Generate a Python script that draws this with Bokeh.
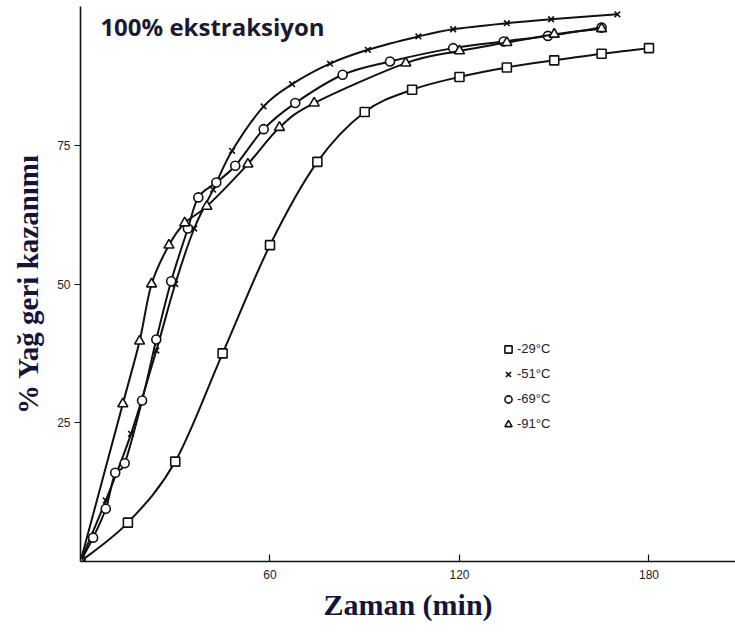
from bokeh.plotting import figure
from bokeh.models import Range1d, FixedTicker, Label, Legend, LegendItem
from bokeh.embed import file_html
from bokeh.resources import INLINE

# ---- data ----
t29 = [0, 15, 30, 45, 60, 75, 90, 105, 120, 135, 150, 165, 180]
y29 = [0, 7, 18, 37.5, 57, 72, 81, 85, 87.3, 89, 90.3, 91.5, 92.5]

t51 = [0, 8, 16, 24, 30, 36, 42, 48, 58, 67, 79, 91, 107, 118, 135, 149, 170]
y51 = [0, 11, 23, 38, 50, 60, 67, 74, 82, 86, 89.7, 92.2, 94.6, 95.9, 97.0, 97.7, 98.6]

t69 = [0, 4, 8, 11, 14, 19.5, 24, 28.7, 34, 37.3, 43, 49, 58, 68, 83, 98, 118, 134, 148, 165]
y69 = [0, 4.3, 9.5, 16, 17.7, 29, 40, 50.5, 60, 65.6, 68.3, 71.3, 77.9, 82.6, 87.7, 90.1, 92.5, 93.7, 94.7, 96.2]

t91 = [0, 13.4, 18.7, 22.5, 28, 33, 40, 53, 63, 74, 103, 120, 135, 150, 165]
y91 = [0, 28.4, 39.7, 50, 57, 61, 64, 71.6, 78.2, 82.6, 89.8, 92, 93.5, 95, 96]

series_labels = ["-29\u00b0C", "-51\u00b0C", "-69\u00b0C", "-91\u00b0C"]
x_ticks = [60, 120, 180]
y_ticks = [25, 50, 75]
title_text = "100% ekstraksiyon"
x_title = "Zaman (min)"
y_title = "% Ya\u011f geri kazan\u0131m\u0131"


def smooth_segments(xs, ys):
    """Catmull-Rom curve through the points, as cubic Bezier segments."""
    n = len(xs)
    out = {k: [] for k in ("x0", "y0", "x1", "y1", "cx0", "cy0", "cx1", "cy1")}
    for i in range(n - 1):
        xa, ya = xs[max(i - 1, 0)], ys[max(i - 1, 0)]
        xb, yb = xs[i], ys[i]
        xc, yc = xs[i + 1], ys[i + 1]
        xd, yd = xs[min(i + 2, n - 1)], ys[min(i + 2, n - 1)]
        out["x0"].append(xb); out["y0"].append(yb)
        out["x1"].append(xc); out["y1"].append(yc)
        out["cx0"].append(xb + (xc - xa) / 6.0); out["cy0"].append(yb + (yc - ya) / 6.0)
        out["cx1"].append(xc - (xd - xb) / 6.0); out["cy1"].append(yc - (yd - yb) / 6.0)
    return out


p = figure(width=735, height=637, output_backend="svg", toolbar_location=None,
           x_range=Range1d(0, 207.4), y_range=Range1d(0, 100),
           min_border_left=80, min_border_right=0, min_border_top=6, min_border_bottom=76)
p.xgrid.visible = False
p.ygrid.visible = False
p.outline_line_color = None
p.background_fill_color = "white"

ink = "#111111"
series = [
    (t29, y29, "square", 9),
    (t51, y51, "x", 8),
    (t69, y69, "circle", 9),
    (t91, y91, "triangle", 10),
]
items = []
for (tx, ty, mk, sz), lab in zip(series, series_labels):
    seg = smooth_segments(tx, ty)
    p.bezier(x0=seg["x0"], y0=seg["y0"], x1=seg["x1"], y1=seg["y1"],
             cx0=seg["cx0"], cy0=seg["cy0"], cx1=seg["cx1"], cy1=seg["cy1"],
             line_color=ink, line_width=2)
    r = p.scatter(tx, ty, marker=mk, size=sz, fill_color="white", line_color=ink, line_width=1.6)
    items.append(LegendItem(label=lab, renderers=[r]))

leg = Legend(items=items, location=(419, 128), border_line_color=None,
             background_fill_alpha=0, label_text_font="Liberation Sans",
             label_text_font_size="13px", label_text_color="#222222",
             glyph_width=18, glyph_height=18, label_standoff=0, spacing=6,
             label_height=19, padding=0, margin=0)
p.add_layout(leg)

# axes
for ax in (p.xaxis[0], p.yaxis[0]):
    ax.axis_line_color = ink
    ax.axis_line_width = 1.6
    ax.major_tick_line_color = ink
    ax.major_tick_line_width = 1.2
    ax.minor_tick_line_color = None
    ax.major_label_text_font = "Liberation Sans"
    ax.major_label_text_font_size = "12px"
    ax.major_label_text_color = "#222222"
    ax.axis_label_text_font = "Liberation Serif"
    ax.axis_label_text_font_style = "bold"
    ax.axis_label_text_color = "#15153a"

p.xaxis.ticker = FixedTicker(ticks=x_ticks)
p.yaxis.ticker = FixedTicker(ticks=y_ticks)
p.xaxis.major_tick_in = 7
p.xaxis.major_tick_out = 0
p.yaxis.major_tick_in = 0
p.yaxis.major_tick_out = 6
p.xaxis.major_label_standoff = 8
p.yaxis.major_label_standoff = 4
p.xaxis.axis_label = x_title
p.xaxis.axis_label_text_font_size = "30px"
p.xaxis.axis_label_standoff = 6
p.yaxis.axis_label = y_title
p.yaxis.axis_label_text_font_size = "29px"
p.yaxis.axis_label_standoff = 10

p.add_layout(Label(x=6.3, y=99.3, text=title_text, text_baseline="top",
                   text_font="Open Sans", text_font_style="bold",
                   text_font_size="24px", text_color="#1a1a33"))

open("out.html", "w").write(file_html(p, INLINE))
